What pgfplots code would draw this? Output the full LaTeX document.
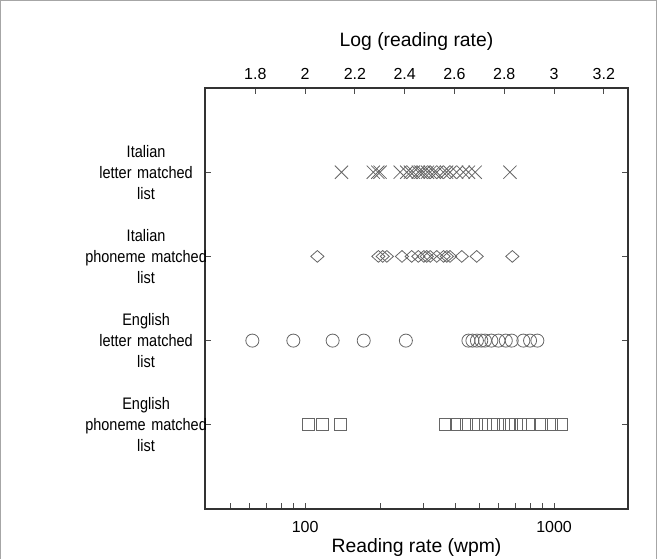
\documentclass[border=0pt]{standalone}
\usepackage{pgfplots}
\pgfplotsset{compat=1.18}
\usepackage{fontspec}
\setmainfont{Liberation Sans}
\newfontfamily\narrowfont[FakeStretch=0.87]{Liberation Sans}
\begin{document}
\begin{tikzpicture}
\pgfplotsset{
  common/.style={
    width=317.25pt, height=315.75pt, scale only axis,
    at={(0,0)}, anchor=south west,
    /pgf/number format/assume math mode=true,
    tick align=inside,
    major tick length=4.5pt, minor tick length=4.5pt,
    tick style={black!70, line width=0.6pt},
    axis line style={black!80, line width=0.8pt},
    ticklabel style={font=\fontsize{12}{14}\selectfont},
    label style={font=\fontsize{14.5}{16}\selectfont},
  }
}
% top axis: log reading rate
\begin{axis}[common,
  xmin=1.598, xmax=3.297, ymin=0, ymax=5,
  axis x line*=top, axis y line=none,
  xtick={1.8,2,2.2,2.4,2.6,2.8,3,3.2},
  xticklabels={1.8,2,2.2,2.4,2.6,2.8,3,3.2},
  xlabel={Log (reading rate)},
  xticklabel style={yshift=3pt},
  xlabel style={yshift=6pt},
]
\end{axis}
\begin{axis}[common,
  xmode=log, xmin=39.63, xmax=1982, ymin=0, ymax=5,
  xtick={100,1000}, xticklabels={100,1000},
  minor xtick={50,60,70,80,90,200,300,400,500,600,700,800,900},
  xtick pos=bottom, ytick pos=both,
  ytick={1,2,3,4},
  yticklabels={English\\phoneme matched\\list, English\\letter matched\\list, Italian\\phoneme matched\\list, Italian\\letter matched\\list},
  yticklabel style={align=center, text width=98pt, inner sep=0pt, anchor=east, xshift=5pt, font=\narrowfont\fontsize{12.5}{15.75}\selectfont},
  xticklabel style={yshift=-6pt},
  xlabel={Reading rate (wpm)},
  xlabel style={yshift=3pt},
  clip=false,
]
\addplot[only marks, mark=x, mark size=7pt, black!60, line width=0.6pt] coordinates {
(140,4) (188,4) (196,4) (200,4) (241,4) (256,4) (265,4) (272,4) (285,4) (292,4) (299,4)
(310,4) (318,4) (330,4) (338,4) (359,4) (370,4) (382,4) (406,4) (432,4) (453,4) (482,4) (665,4)
};
\addplot[only marks, mark=diamond, mark size=4.4pt, mark options={xscale=1.5}, black!60, line width=0.6pt] coordinates {
(112,3) (197,3) (205,3) (213,3) (245,3) (268,3) (285,3) (300,3) (308,3) (318,3) (338,3)
(360,3) (371,3) (382,3) (426,3) (489,3) (680,3)
};
\addplot[only marks, mark=o, mark size=4.9pt, black!60, line width=0.6pt] coordinates {
(61.4,2) (89.7,2) (129,2) (172,2) (254,2) (453,2) (470,2) (490,2) (510,2) (528,2) (560,2)
(598,2) (640,2) (676,2) (753,2) (801,2) (857,2)
};
\addplot[only marks, mark=square, mark size=4.5pt, black!60, line width=0.6pt] coordinates {
(103,1) (117,1) (138,1) (365,1) (406,1) (446,1) (489,1) (529,1) (571,1) (626,1) (660,1)
(676,1) (730,1) (788,1) (893,1) (980,1) (1075,1)
};
\end{axis}
\pgfresetboundingbox
\path[use as bounding box] (-153.75pt,-36.75pt) rectangle (339pt,381.75pt);
\draw[black!35, line width=0.8pt] (-153.35pt,-40pt) -- (-153.35pt,381.35pt) -- (338.6pt,381.35pt) -- (338.6pt,-40pt);
\end{tikzpicture}
\end{document}
